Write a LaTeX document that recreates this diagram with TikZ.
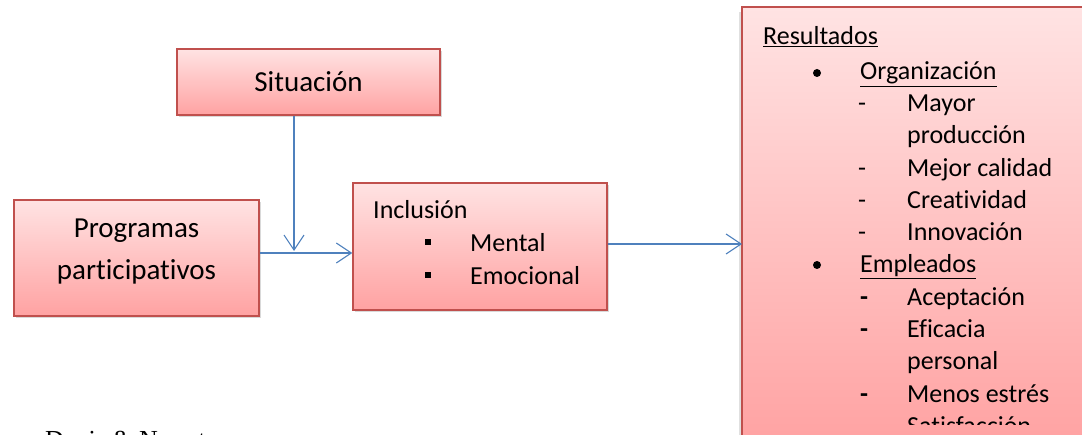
\documentclass[tikz,border=0pt]{standalone}
\usepackage{fontspec}
\setmainfont{Carlito}[Ligatures=NoCommon]
\newfontfamily\capfont{Liberation Serif}
\usetikzlibrary{arrows.meta,shadows}
\definecolor{pinktop}{HTML}{FFE3E3}
\definecolor{pinkbot}{HTML}{FFA2A2}
\definecolor{boxline}{HTML}{C0504D}
\definecolor{linkblue}{HTML}{4F81BD}

\begin{document}
\begin{tikzpicture}[x=1pt,y=-1pt,
  plain card/.style={top color=pinktop, bottom color=pinkbot, rectangle, inner sep=0pt},
  card/.style={plain card, draw=boxline, line width=1.4pt,
    drop shadow={opacity=0.3, shadow xshift=1.5pt, shadow yshift=-2.5pt}},
  edge/.style={draw=boxline, line width=1.4pt},
  link/.style={draw=linkblue, line width=1.1pt, -{Straight Barb[length=15pt,width=20pt]}},
  big/.style={font=\fontsize{29}{42}\selectfont, inner sep=0pt},
  txt/.style={font=\fontsize{26}{32}\selectfont, anchor=base west, inner sep=0pt},
  dot/.style={circle, fill=black, minimum size=8pt, inner sep=0pt},
  sq/.style={rectangle, fill=black, minimum size=6.5pt, inner sep=0pt},
]
\useasboundingbox (0,0) rectangle (1082,435);
\clip (0,0) rectangle (1082,435);

% boxes
\node[card, minimum width=263pt, minimum height=66pt] (sit) at (308.5,82) {};
\node[card, minimum width=245pt, minimum height=116pt] (prog) at (136.5,258) {};
\node[card, minimum width=254pt, minimum height=127pt] (inc) at (480,246.5) {};
% the results box runs past the right and bottom edges
\fill[black, opacity=0.12] (739,12) rectangle (1082,435);
\node[plain card, anchor=north west, minimum width=400pt, minimum height=440pt] (res) at (742,7) {};
\draw[edge] (res.south west) -- (res.north west) -- (res.north east);

% box titles
\node[big] (sitT) at (sit.center) {Situación};
\node[big, align=center] (progT) at (136.5,251.5) {Programas\\participativos};

% connectors
\coordinate (j) at (294,253);
\coordinate (k) at (675,244);
\draw[link, shorten >=2pt] (sit.south -| j) -- (j);
\draw[link] (prog.east |- j) -- (inc.west |- j);
\draw[link] (inc.east |- k) -- (res.west |- k);

% inclusion list
\node[txt] (incT) at (373,219) {Inclusión};
\node[sq] (b1) at (428,242) {};
\node[txt] (m1) at (470,252) {Mental};
\node[sq] (b2) at (428,275) {};
\node[txt] (m2) at (470,285) {Emocional};

% results list, cut off by the box
\begin{scope}
\clip (744,9) rectangle (1082,425);
\node[txt] (r0) at (763,45) {\underline{Resultados}};
\node[dot] (d1) at (817,73) {};
\node[txt] (r1) at (860,80) {\underline{Organización}};
\node[txt] (h1) at (858,111.5) {-};
\node[txt] (r2) at (907,111.5) {Mayor};
\node[txt] (r3) at (907,143.8) {producción};
\node[txt] (h2) at (858,176.1) {-};
\node[txt] (r4) at (907,176.1) {Mejor calidad};
\node[txt] (h3) at (858,208.4) {-};
\node[txt] (r5) at (907,208.4) {Creatividad};
\node[txt] (h4) at (858,240.7) {-};
\node[txt] (r6) at (907,240.7) {Innovación};
\node[dot] (d2) at (817,265) {};
\node[txt] (r7) at (860,273) {\underline{Empleados}};
\node[txt] (h5) at (860,305.3) {\bfseries -};
\node[txt] (r8) at (907,305.3) {Aceptación};
\node[txt] (h6) at (860,337.6) {\bfseries -};
\node[txt] (r9) at (907,337.6) {Eficacia};
\node[txt] (r10) at (907,369.9) {personal};
\node[txt] (h7) at (860,402.2) {\bfseries -};
\node[txt] (r11) at (907,402.2) {Menos estrés};
\node[txt] (r12) at (907,434.5) {Satisfacción};
\end{scope}

% source line below the figure
\node[font=\capfont\fontsize{26}{26}\selectfont, anchor=base west, inner sep=0pt] (src) at (45,449) {Davis \& Newstrom};
\end{tikzpicture}
\end{document}
